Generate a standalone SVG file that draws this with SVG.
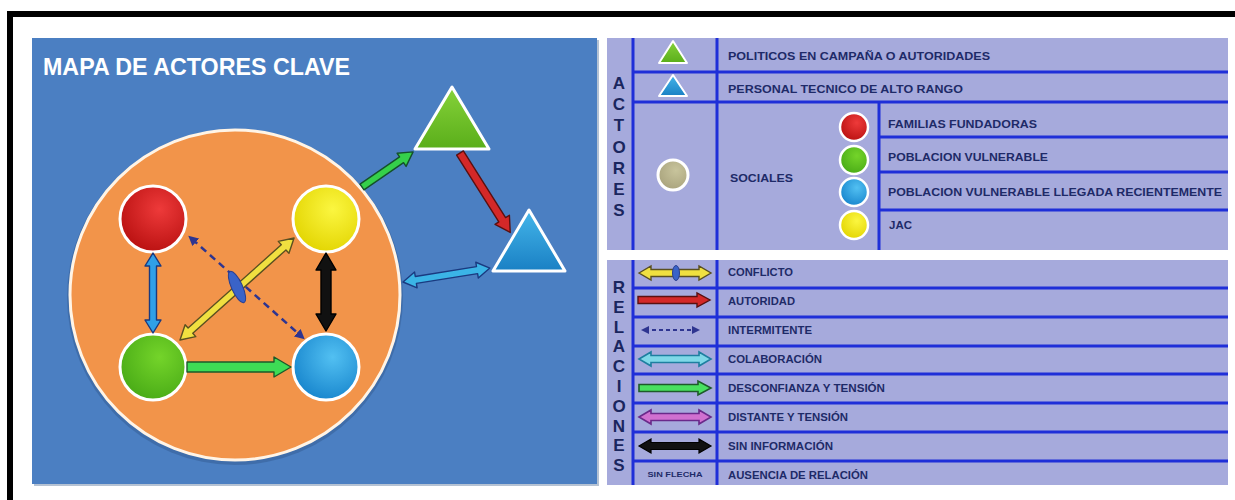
<svg xmlns="http://www.w3.org/2000/svg" width="1235" height="500" viewBox="0 0 1235 500">
<style>
.lg{font-family:"Liberation Sans",Arial,sans-serif;font-weight:bold;font-size:10px;fill:#1e2a68}
.vl{font-family:"Liberation Sans",Arial,sans-serif;font-weight:bold;font-size:17px;fill:#1a265e;text-anchor:middle}
.sep{stroke:#1f2fd8;stroke-width:3}
.node{stroke:#ffffff;stroke-width:3}
.arr{stroke-width:1.4;stroke-linejoin:round}
</style>
<defs>
<radialGradient id="gRed" cx="0.6" cy="0.35" r="0.7"><stop offset="0" stop-color="#ee3a3a"/><stop offset="1" stop-color="#b81010"/></radialGradient>
<radialGradient id="gYel" cx="0.6" cy="0.35" r="0.7"><stop offset="0" stop-color="#fbf640"/><stop offset="1" stop-color="#e2d400"/></radialGradient>
<radialGradient id="gGrn" cx="0.6" cy="0.35" r="0.7"><stop offset="0" stop-color="#74d42a"/><stop offset="1" stop-color="#48aa16"/></radialGradient>
<radialGradient id="gBlu" cx="0.6" cy="0.35" r="0.7"><stop offset="0" stop-color="#52c0f2"/><stop offset="1" stop-color="#1684cc"/></radialGradient>
<radialGradient id="gGry" cx="0.6" cy="0.35" r="0.7"><stop offset="0" stop-color="#c8c49c"/><stop offset="1" stop-color="#a8a27c"/></radialGradient>
<linearGradient id="tGrn" x1="0" y1="0" x2="0" y2="1"><stop offset="0" stop-color="#86d23a"/><stop offset="1" stop-color="#5aae1a"/></linearGradient>
<linearGradient id="tBlu" x1="0" y1="0" x2="0" y2="1"><stop offset="0" stop-color="#44b6ea"/><stop offset="1" stop-color="#1a80c4"/></linearGradient>
<marker id="dashHead" viewBox="0 0 10 10" refX="5" refY="5" markerWidth="4" markerHeight="4" orient="auto-start-reverse"><path d="M0,0 L10,5 L0,10 z" fill="#2e3590"/></marker>
<polygon id="legDouble" points="0,0 12,-7 12,-3.5 60,-3.5 60,-7 72,0 60,7 60,3.5 12,3.5 12,7"/>
<polygon id="legSingle" points="0,-3.5 59,-3.5 59,-7 72,0 59,7 59,3.5 0,3.5"/>
</defs>
<rect x="0" y="0" width="1235" height="500" fill="#ffffff"/>
<!-- frame -->
<rect x="7" y="11" width="1228" height="6" fill="#000000"/>
<rect x="7" y="11" width="6" height="489" fill="#000000"/>

<!-- map panel -->
<g id="map-panel">
<rect x="34" y="40" width="565" height="446" fill="#2c4f80" opacity="0.35"/>
<rect x="32" y="38" width="565" height="446" fill="#4b7fc2"/>
<text x="43" y="75" font-family="Liberation Sans, Arial, sans-serif" font-weight="bold" font-size="23.5" fill="#ffffff" textLength="307" lengthAdjust="spacingAndGlyphs">MAPA DE ACTORES CLAVE</text>
</g>
<g id="group-sociales">
<circle cx="235" cy="297" r="168" fill="#2a4d7e" opacity="0.35"/>
<circle cx="235" cy="295" r="165" fill="#f2944a" stroke="#fff4e6" stroke-width="3"/>
</g>
<g id="node-familias"><circle cx="153" cy="219" r="33" fill="url(#gRed)" class="node"/></g>
<g id="node-jac"><circle cx="326" cy="219" r="33" fill="url(#gYel)" class="node"/></g>
<g id="node-vulnerable"><circle cx="153" cy="367" r="33" fill="url(#gGrn)" class="node"/></g>
<g id="node-vulnerable-reciente"><circle cx="326" cy="367" r="33" fill="url(#gBlu)" class="node"/></g>
<g id="node-politicos"><polygon points="452,87 415,149 489,149" fill="url(#tGrn)" stroke="#ffffff" stroke-width="3" stroke-linejoin="round"/></g>
<g id="node-tecnico"><polygon points="529,210 493,271 565,271" fill="url(#tBlu)" stroke="#ffffff" stroke-width="3" stroke-linejoin="round"/></g>

<g id="connectors">
<polygon class="arr" transform="translate(362,187) rotate(-34.5)" points="0,-3.5 48,-3.5 48,-8 62,0 48,8 48,3.5 0,3.5" fill="#35d04a" stroke="#14502a"/>
<polygon class="arr" transform="translate(460,153) rotate(57.7)" points="0,-4 79,-4 79,-8.5 94,0 79,8.5 79,4 0,4" fill="#d42828" stroke="#5a1010"/>
<polygon class="arr" transform="translate(403,282) rotate(-9.1)" points="0,0 13,-8 13,-3.5 75,-3.5 75,-8 88,0 75,8 75,3.5 13,3.5 13,8" fill="#3bb4e6" stroke="#1a3a80"/>
<polygon class="arr" transform="translate(153,253) rotate(90)" points="0,0 13,-8 13,-3.5 67,-3.5 67,-8 80,0 67,8 67,3.5 13,3.5 13,8" fill="#30a0e8" stroke="#1a3a80"/>
<polygon class="arr" transform="translate(326,253) rotate(90)" points="0,0 17,-10 17,-5 61,-5 61,-10 78,0 61,10 61,5 17,5 17,10" fill="#111111" stroke="#000000"/>
<polygon class="arr" transform="translate(187,367)" points="0,-5 87,-5 87,-10 104,0 87,10 87,5 0,5" fill="#3ddc55" stroke="#1d5a2a"/>
<line x1="192" y1="239" x2="301" y2="336" stroke="#2e3590" stroke-width="2.5" stroke-dasharray="7 5" marker-start="url(#dashHead)" marker-end="url(#dashHead)"/>
<polygon class="arr" transform="translate(180,340) rotate(-41.8)" points="0,0 14,-8 14,-3.5 139,-3.5 139,-8 153,0 139,8 139,3.5 14,3.5 14,8" fill="#f0e040" stroke="#5a5020"/>
<ellipse cx="237" cy="287" rx="17" ry="5.5" transform="rotate(65.6 237 287)" fill="#3a63c8" stroke="#2a3f90" stroke-width="1"/>
</g>

<!-- legend: actores -->
<g id="legend-actores">
<rect x="607" y="38" width="621" height="212" fill="#a6aadc"/>
<line class="sep" x1="633" y1="38" x2="633" y2="250"/>
<line class="sep" x1="717" y1="38" x2="717" y2="250"/>
<line class="sep" x1="879" y1="102" x2="879" y2="250"/>
<line class="sep" x1="633" y1="72" x2="1228" y2="72"/>
<line class="sep" x1="633" y1="102" x2="1228" y2="102"/>
<line class="sep" x1="879" y1="137" x2="1228" y2="137"/>
<line class="sep" x1="879" y1="172" x2="1228" y2="172"/>
<line class="sep" x1="879" y1="210" x2="1228" y2="210"/>
<text class="vl" x="619" y="89">A</text>
<text class="vl" x="619" y="110.2">C</text>
<text class="vl" x="619" y="131.4">T</text>
<text class="vl" x="619" y="152.5">O</text>
<text class="vl" x="619" y="173.7">R</text>
<text class="vl" x="619" y="194.8">E</text>
<text class="vl" x="619" y="216">S</text>
<polygon points="673,41 659,63 687,63" fill="url(#tGrn)" stroke="#ffffff" stroke-width="2" stroke-linejoin="round"/>
<polygon points="673,75 659,96 687,96" fill="url(#tBlu)" stroke="#ffffff" stroke-width="2" stroke-linejoin="round"/>
<circle cx="673" cy="175" r="15" fill="url(#gGry)" stroke="#ffffff" stroke-width="3"/>
<circle cx="854" cy="127" r="14" fill="url(#gRed)" stroke="#ffffff" stroke-width="2.5"/>
<circle cx="854" cy="160" r="14" fill="url(#gGrn)" stroke="#ffffff" stroke-width="2.5"/>
<circle cx="854" cy="192" r="14" fill="url(#gBlu)" stroke="#ffffff" stroke-width="2.5"/>
<circle cx="854" cy="225" r="14" fill="url(#gYel)" stroke="#ffffff" stroke-width="2.5"/>
<text class="lg" x="728" y="60" textLength="262" lengthAdjust="spacingAndGlyphs">POLITICOS EN CAMPAÑA O AUTORIDADES</text>
<text class="lg" x="728" y="93" textLength="235" lengthAdjust="spacingAndGlyphs">PERSONAL TECNICO DE ALTO RANGO</text>
<text class="lg" x="730" y="182" textLength="63" lengthAdjust="spacingAndGlyphs">SOCIALES</text>
<text class="lg" x="888" y="128" textLength="149" lengthAdjust="spacingAndGlyphs">FAMILIAS FUNDADORAS</text>
<text class="lg" x="888" y="161" textLength="160" lengthAdjust="spacingAndGlyphs">POBLACION VULNERABLE</text>
<text class="lg" x="888" y="196" textLength="334" lengthAdjust="spacingAndGlyphs">POBLACION VULNERABLE LLEGADA RECIENTEMENTE</text>
<text class="lg" x="889" y="229" textLength="23" lengthAdjust="spacingAndGlyphs">JAC</text>
</g>

<!-- legend: relaciones -->
<g id="legend-relaciones">
<rect x="607" y="260" width="621" height="225" fill="#a6aadc"/>
<line class="sep" x1="633" y1="260" x2="633" y2="485"/>
<line class="sep" x1="717" y1="260" x2="717" y2="485"/>
<line class="sep" x1="633" y1="288" x2="1228" y2="288"/>
<line class="sep" x1="633" y1="317" x2="1228" y2="317"/>
<line class="sep" x1="633" y1="346" x2="1228" y2="346"/>
<line class="sep" x1="633" y1="374" x2="1228" y2="374"/>
<line class="sep" x1="633" y1="403" x2="1228" y2="403"/>
<line class="sep" x1="633" y1="432" x2="1228" y2="432"/>
<line class="sep" x1="633" y1="461" x2="1228" y2="461"/>
<text class="vl" x="619" y="293">R</text>
<text class="vl" x="619" y="312.8">E</text>
<text class="vl" x="619" y="332.6">L</text>
<text class="vl" x="619" y="352.4">A</text>
<text class="vl" x="619" y="372.2">C</text>
<text class="vl" x="619" y="392">I</text>
<text class="vl" x="619" y="411.8">O</text>
<text class="vl" x="619" y="431.6">N</text>
<text class="vl" x="619" y="451.4">E</text>
<text class="vl" x="619" y="471.2">S</text>
<use href="#legDouble" transform="translate(639,273)" fill="#f0e040" stroke="#5a5020" stroke-width="1.4"/>
<ellipse cx="676" cy="273" rx="3.5" ry="7.5" fill="#3a63c8" stroke="#2a3f90" stroke-width="1"/>
<use href="#legSingle" transform="translate(638,300)" fill="#d42828" stroke="#5a1010" stroke-width="1.4"/>
<line x1="645" y1="330" x2="696" y2="330" stroke="#2e3590" stroke-width="2" stroke-dasharray="4 3" marker-start="url(#dashHead)" marker-end="url(#dashHead)"/>
<use href="#legDouble" transform="translate(639,359)" fill="#7fd8e8" stroke="#1e7fa0" stroke-width="1.6"/>
<use href="#legSingle" transform="translate(639,388)" fill="#49e060" stroke="#1e5a2a" stroke-width="1.6"/>
<use href="#legDouble" transform="translate(639,417)" fill="#d070d0" stroke="#6a2a8a" stroke-width="1.6"/>
<use href="#legDouble" transform="translate(639,446)" fill="#111111" stroke="#000000" stroke-width="1.2"/>
<text class="lg" x="675" y="477" text-anchor="middle" textLength="55" lengthAdjust="spacingAndGlyphs" style="font-size:6.5px">SIN FLECHA</text>
<text class="lg" x="728" y="276" textLength="65" lengthAdjust="spacingAndGlyphs">CONFLICTO</text>
<text class="lg" x="728" y="305" textLength="67" lengthAdjust="spacingAndGlyphs">AUTORIDAD</text>
<text class="lg" x="728" y="334" textLength="84" lengthAdjust="spacingAndGlyphs">INTERMITENTE</text>
<text class="lg" x="728" y="363" textLength="94" lengthAdjust="spacingAndGlyphs">COLABORACIÓN</text>
<text class="lg" x="728" y="392" textLength="157" lengthAdjust="spacingAndGlyphs">DESCONFIANZA Y TENSIÓN</text>
<text class="lg" x="728" y="421" textLength="120" lengthAdjust="spacingAndGlyphs">DISTANTE Y TENSIÓN</text>
<text class="lg" x="728" y="450" textLength="105" lengthAdjust="spacingAndGlyphs">SIN INFORMACIÓN</text>
<text class="lg" x="728" y="479" textLength="140" lengthAdjust="spacingAndGlyphs">AUSENCIA DE RELACIÓN</text>
</g>
</svg>
